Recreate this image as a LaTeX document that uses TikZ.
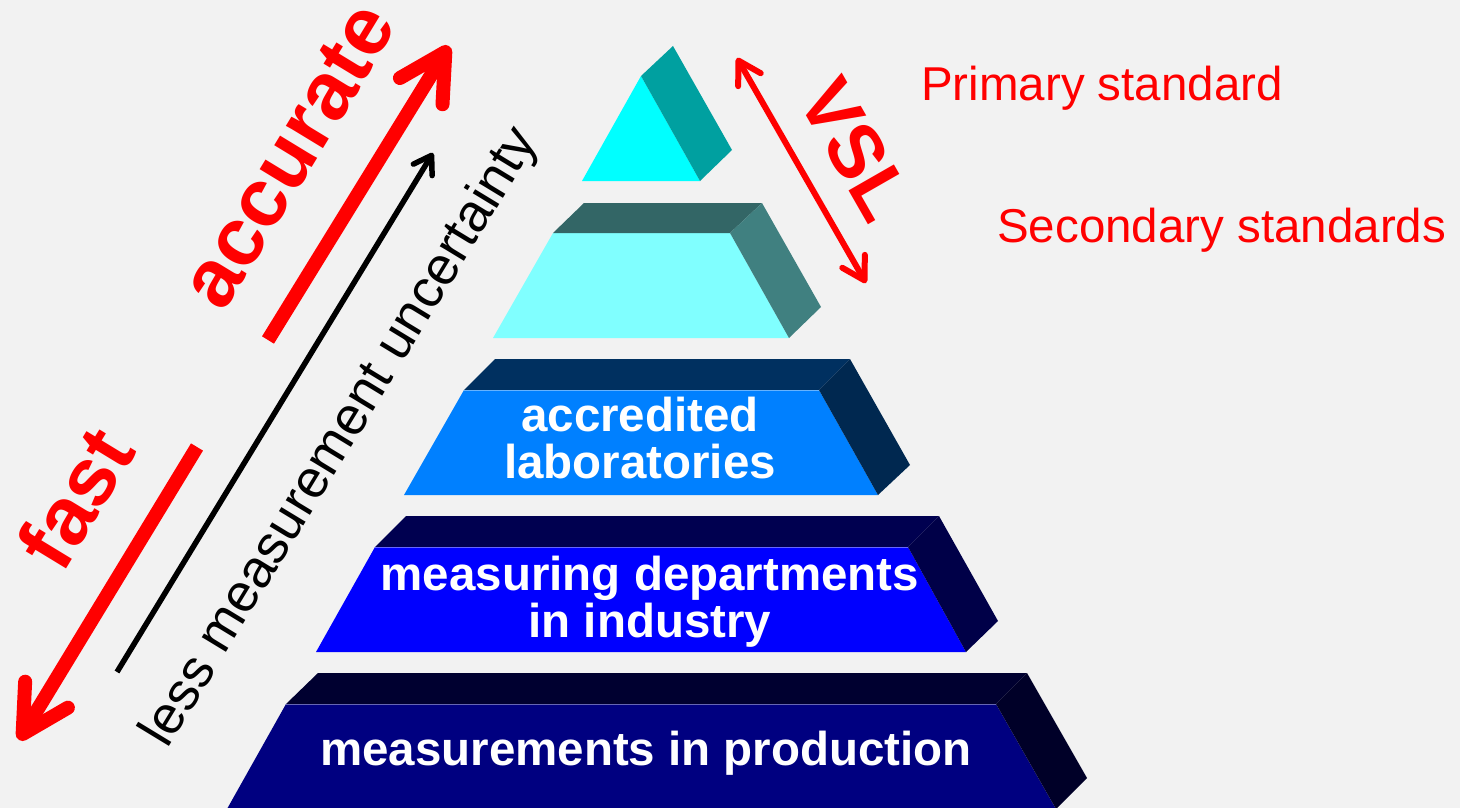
\documentclass[tikz,border=0pt]{standalone}
\usepackage{fontspec}
\setmainfont{Liberation Sans}
\usetikzlibrary{arrows.meta}

\definecolor{pagegray}{RGB}{242,242,242}
\definecolor{primfront}{RGB}{0,255,255}
\definecolor{primside}{RGB}{0,160,160}
\definecolor{secfront}{RGB}{128,255,255}
\definecolor{sectop}{RGB}{51,102,102}
\definecolor{secside}{RGB}{64,128,128}
\definecolor{labfront}{RGB}{0,128,255}
\definecolor{labtop}{RGB}{0,48,96}
\definecolor{labside}{RGB}{0,40,80}
\definecolor{indfront}{RGB}{0,0,255}
\definecolor{indtop}{RGB}{0,0,80}
\definecolor{indside}{RGB}{0,0,72}
\definecolor{prodfront}{RGB}{0,0,128}
\definecolor{prodtop}{RGB}{0,0,48}
\definecolor{prodside}{RGB}{0,0,40}

\tikzset{
  tiertext/.style={text=white, font=\bfseries\fontsize{47.5}{47}\selectfont,
    align=center, inner sep=0pt, anchor=base},
  sidetext/.style={text=red, font=\fontsize{47.5}{48}\selectfont,
    inner sep=0pt, anchor=base west},
  bigword/.style={text=red, font=\bfseries\fontsize{82}{82}\selectfont,
    inner sep=0pt, anchor=base},
  fatarrow/.style={draw=red, line width=14pt,
    -{Straight Barb[length=46pt,width=50pt,round]}},
  thinarrow/.style={draw=black, line width=5.5pt,
    -{Straight Barb[length=17pt,width=22pt,round]}},
  vslarrow/.style={draw=red, line width=6pt,
    {Straight Barb[length=22pt,width=26pt,round]}-{Straight Barb[length=22pt,width=26pt,round]}},
}

\begin{document}
\begin{tikzpicture}[x=1pt,y=-1pt]
  \fill[pagegray] (0,0) rectangle (1460,808);
  \useasboundingbox (0,0) rectangle (1460,808);

  % pyramid, top to bottom
  \fill[primfront] (582,181) -- (641,76) -- (700,181) -- cycle;
  \fill[primside] (641,76) -- (673,46) -- (732,150) -- (700,181) -- cycle;

  \fill[secfront] (493,338) -- (553,233) -- (730,233) -- (789,338) -- cycle;
  \fill[sectop] (553,233) -- (584,203) -- (762,203) -- (730,233) -- cycle;
  \fill[secside] (730,233) -- (762,203) -- (821,307) -- (789,338) -- cycle;

  \fill[labfront] (404,495) -- (464,390) -- (819,390) -- (878,495) -- cycle;
  \fill[labtop] (464,390) -- (495,359) -- (850,359) -- (819,390) -- cycle;
  \fill[labside] (819,390) -- (850,359) -- (910,465) -- (878,495) -- cycle;
  \draw[labfront!60!white, line width=0.8pt] (464,390) -- (819,390);

  \fill[indfront] (316,652) -- (375,547) -- (908,547) -- (966,652) -- cycle;
  \fill[indtop] (375,547) -- (406,516) -- (939,516) -- (908,547) -- cycle;
  \fill[indside] (908,547) -- (939,516) -- (998,621) -- (966,652) -- cycle;
  \draw[indfront!60!white, line width=0.8pt] (375,547) -- (908,547);

  \fill[prodfront] (227,809) -- (286,704) -- (996,704) -- (1056,809) -- cycle;
  \fill[prodtop] (286,704) -- (318,673) -- (1027,673) -- (996,704) -- cycle;
  \fill[prodside] (996,704) -- (1027,673) -- (1087,778) -- (1056,809) -- cycle;
  \draw[prodfront!60!white, line width=0.8pt] (286,704) -- (996,704);

  % base anchor sits on the last line
  \node[tiertext] (labs) at (640,478) {accredited\\laboratories};
  \node[tiertext] (industry) at (650,637) {measuring departments\\in industry};
  \node[tiertext] (production) at (646,765) {measurements in production};

  \node[sidetext] (primary) at (921,100) {Primary standard};
  \node[sidetext] (secondary) at (997,242) {Secondary standards};

  % direction arrows left of the pyramid
  \coordinate (accTail) at (268,340);
  \coordinate (accTip) at (449,46);
  \coordinate (fastTail) at (197,447);
  \coordinate (fastTip) at (19,740);
  \coordinate (lessTail) at (117,672);
  \coordinate (lessTip) at (433,153);
  \draw[fatarrow] (accTail) -- (accTip);
  \draw[fatarrow] (fastTail) -- (fastTip);
  \draw[thinarrow] (lessTail) -- (lessTip);

  \node[bigword, rotate=58.7] (accurate) at (311,169) {accurate};
  \node[bigword, rotate=58.7] (fast) at (100,513) {fast};
  \node[rotate=58.7, anchor=base, inner sep=0pt, font=\fontsize{53.5}{53}\selectfont]
    (uncertainty) at (353,445) {less measurement uncertainty};

  % VSL range
  \coordinate (vslTop) at (737,58);
  \coordinate (vslBottom) at (866,283);
  \draw[vslarrow] (vslTop) -- (vslBottom);
  \node[bigword, rotate=-60.2, font=\bfseries\fontsize{76}{76}\selectfont]
    (vsl) at (833,163) {VSL};
\end{tikzpicture}
\end{document}
